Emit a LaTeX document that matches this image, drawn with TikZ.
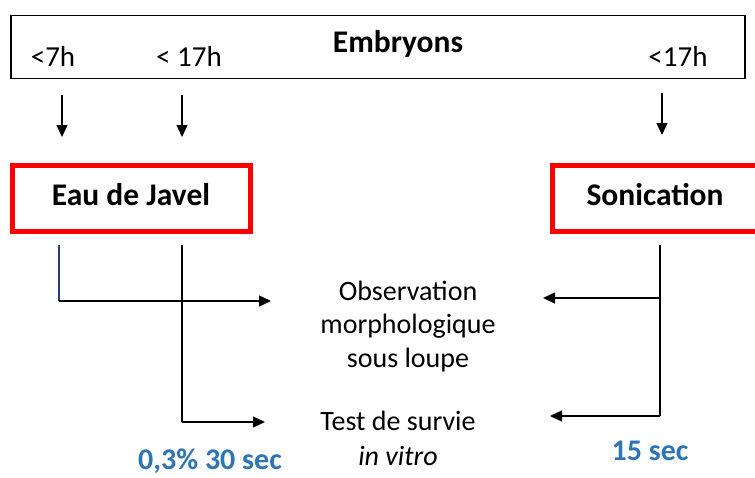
\documentclass[tikz,border=0pt]{standalone}
\usepackage{fontspec}
\setmainfont{Carlito}
\usetikzlibrary{arrows.meta}
\definecolor{lblue}{HTML}{2E75B6}
\definecolor{dblue}{HTML}{1F3A8A}
\tikzset{
  redbox/.style={draw=red, line width=5pt, minimum width=#1, minimum height=66pt, inner sep=0pt},
  boldtxt/.style={inner sep=0pt, anchor=base, font=\fontsize{31.5}{36}\selectfont\bfseries},
  toptxt/.style={inner sep=0pt, anchor=base, font=\fontsize{29}{33}\selectfont},
  plain/.style={inner sep=0pt, anchor=base, font=\fontsize{28}{33}\selectfont},
  blue/.style={inner sep=0pt, anchor=base, text=lblue, font=\fontsize{30}{34}\selectfont\bfseries},
  arr/.style={line width=1.4pt, -{Triangle[length=12pt,width=11pt]}},
  ln/.style={line width=1.4pt}
}
\begin{document}
\begin{tikzpicture}[x=1pt,y=-1pt]
\useasboundingbox (0,0) rectangle (755,477);
\fill[white] (0,0) rectangle (755,477);
% top box
\node[draw, line width=1.5pt, minimum width=734pt, minimum height=63pt, inner sep=0pt] (emb) at (378,47) {};
\node[boldtxt] (embt) at (398,52) {Embryons};
\node[toptxt] (t1) at (53,66) {<7h};
\node[toptxt] (t2) at (189,66) {< 17h};
\node[toptxt] (t3) at (678,66) {<17h};
% down arrows
\coordinate (a1s) at (62,95); \coordinate (a1e) at (62,137);
\coordinate (a2s) at (182,95); \coordinate (a2e) at (182,137);
\coordinate (a3s) at (662,93); \coordinate (a3e) at (662,135);
\draw[arr] (a1s) -- (a1e);
\draw[arr] (a2s) -- (a2e);
\draw[arr] (a3s) -- (a3e);
% red boxes
\node[redbox=238pt] (javel) at (131,198) {};
\node[boldtxt] (javelt) at (131,205) {Eau de Javel};
\node[redbox=215pt, anchor=west] (soni) at (549.5,198) {};
\node[boldtxt] (sonit) at (655,205) {Sonication};
% middle texts
\node[plain] (obs1) at (408,300) {Observation};
\node[plain] (obs2) at (408,333) {morphologique};
\node[plain] (obs3) at (408,367) {sous loupe};
\node[plain] (test1) at (398,430) {Test de survie};
\node[plain] (test2) at (398,465) {\itshape in vitro};
\node[blue] (l1) at (210,469) {0,3\% 30 sec};
\node[blue] (l2) at (650,460) {15 sec};
% left connectors
\coordinate (j1) at (59,245); \coordinate (j1c) at (59,301); \coordinate (j1e) at (271,301);
\coordinate (j2) at (182,245); \coordinate (j2c) at (182,422); \coordinate (j2e) at (265,422);
\draw[ln, dblue] (j1) -- (j1c);
\draw[arr] (j1c) -- (j1e);
\draw[ln] (j2) -- (j2c);
\draw[arr] (j2c) -- (j2e);
% right connectors
\coordinate (s1) at (660,245); \coordinate (s1a) at (660,298); \coordinate (s1b) at (660,416);
\coordinate (s1e) at (543,298); \coordinate (s2e) at (550,416);
\draw[ln] (s1) -- (s1b);
\draw[arr] (s1a) -- (s1e);
\draw[arr] (s1b) -- (s2e);
\end{tikzpicture}
\end{document}
